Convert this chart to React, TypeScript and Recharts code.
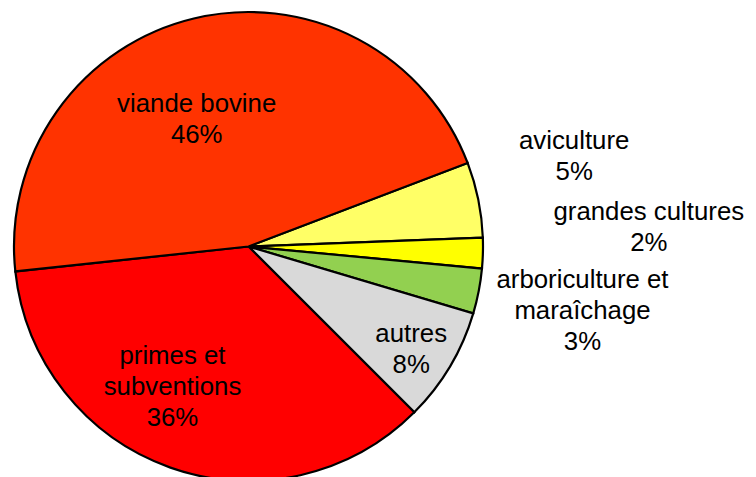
import React from "react";
import { PieChart, Pie, Cell } from "recharts";

const categories = [
  "aviculture",
  "grandes cultures",
  "arboriculture et maraîchage",
  "autres",
  "primes et subventions",
  "viande bovine",
];
const values = [5.2, 2.1, 3.1, 7.9, 35.8, 45.9];
const percentLabels = ["5%", "2%", "3%", "8%", "36%", "46%"];
const labelLines = [
  ["aviculture"],
  ["grandes cultures"],
  ["arboriculture et", "maraîchage"],
  ["autres"],
  ["primes et", "subventions"],
  ["viande bovine"],
];
const colors = ["#FFFF66", "#FFFF00", "#92D050", "#D9D9D9", "#FF0000", "#FF3300"];

// label anchor (first baseline) relative to pie center
const labelOffsets = [
  [325.7, -97.2],
  [400.3, -26.5],
  [334, 41.8],
  [162.7, 95.2],
  [-76, 117.8],
  [-51.8, -134.2],
];

const data = categories.map((name, i) => ({ name, value: values[i] }));

const LINE_H = 31;

const renderLabel = (props: any) => {
  const { cx, cy, index } = props;
  const [dx, dy] = labelOffsets[index];
  const lines = [...labelLines[index], percentLabels[index]];
  return (
    <text
      key={"lbl" + index}
      x={cx + dx}
      y={cy + dy}
      textAnchor="middle"
      fill="#000"
      fontFamily="'Liberation Sans', Arial, sans-serif"
      fontSize={25.8}
    >
      {lines.map((l, j) => (
        <tspan key={j} x={cx + dx} y={cy + dy + j * LINE_H}>
          {l}
        </tspan>
      ))}
    </text>
  );
};

export default function App() {
  return (
    <div style={{ position: "absolute", left: 0, top: 0, width: 756, height: 477, background: "#fff" }}>
      <PieChart width={756} height={477} margin={{ top: 0, right: 0, bottom: 0, left: 0 }}>
        <Pie
          data={data}
          dataKey="value"
          nameKey="name"
          cx={248.5}
          cy={246.5}
          outerRadius={234.5}
          startAngle={20.87}
          endAngle={20.87 - 360}
          stroke="#000"
          strokeWidth={2.2}
          label={renderLabel}
          labelLine={false}
          isAnimationActive={false}
        >
          {data.map((d, i) => (
            <Cell key={d.name} fill={colors[i]} />
          ))}
        </Pie>
      </PieChart>
    </div>
  );
}
